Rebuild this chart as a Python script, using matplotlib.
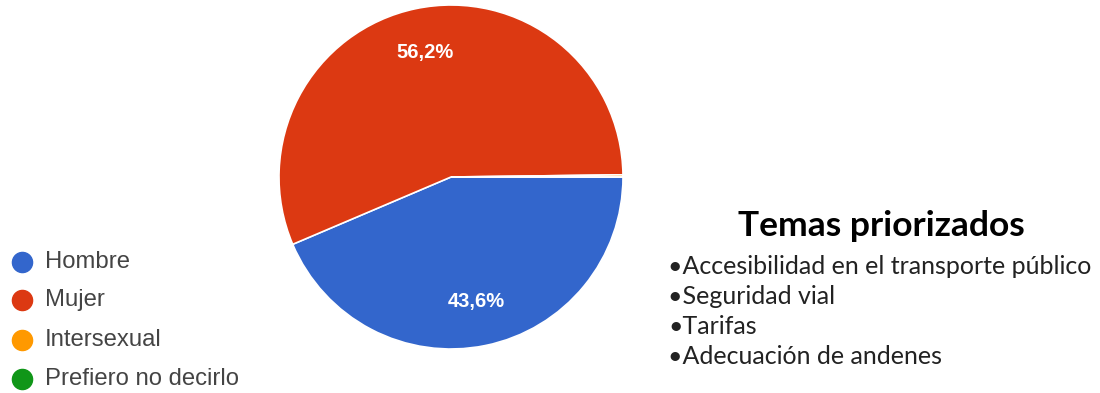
import matplotlib
matplotlib.use("Agg")
import matplotlib.pyplot as plt
from matplotlib.lines import Line2D

categories = ["Hombre", "Mujer", "Intersexual", "Prefiero no decirlo"]
values = [43.6, 56.2, 0.2, 0.0]
colors = ["#3366CC", "#DC3912", "#FF9900", "#109618"]
title = "Temas priorizados"
topics = ["Accesibilidad en el transporte público", "Seguridad vial", "Tarifas", "Adecuación de andenes"]

W, H = 1100, 393
fig = plt.figure(figsize=(W / 100, H / 100), dpi=100)

def px(x, y):
    return x / W, 1 - y / H

cx, cy, r = 451, 177, 172
ax = fig.add_axes([(cx - r) / W, (H - cy - r) / H, 2 * r / W, 2 * r / H])
wedges, texts, autotexts = ax.pie(
    values, colors=colors, startangle=0, counterclock=False,
    autopct=lambda p: (f"{p:.1f}%".replace(".", ",") if p > 1 else ""),
    pctdistance=0.74, wedgeprops=dict(edgecolor="white", linewidth=1.2),
    textprops=dict(color="white", fontsize=14.5, fontweight="bold", family="Liberation Sans"))
ax.set_xlim(-1, 1)
ax.set_ylim(-1, 1)
ax.set_aspect("equal")
ax.axis("off")

# legend
ys = [262, 300, 340, 379]
for lab, col, y in zip(categories, colors, ys):
    fig.add_artist(Line2D([22 / W], [1 - y / H], marker="o", markersize=14.5,
                          markerfacecolor=col, markeredgecolor=col, linestyle="none",
                          transform=fig.transFigure))
    fig.text(*px(45, y), lab, fontsize=17.2, color="#444444", va="center", ha="left",
             family="Liberation Sans")

# right text block
fig.text(*px(881, 226), title, fontsize=25.5, fontweight="bold", color="black",
         ha="center", va="center", family="Lato")
for t, y in zip(topics, [267, 296, 326, 356]):
    fig.text(*px(668, y), "•" + t, fontsize=18, color="#222222", ha="left", va="center",
             family="Lato")

fig.savefig("out.png", dpi=100)
